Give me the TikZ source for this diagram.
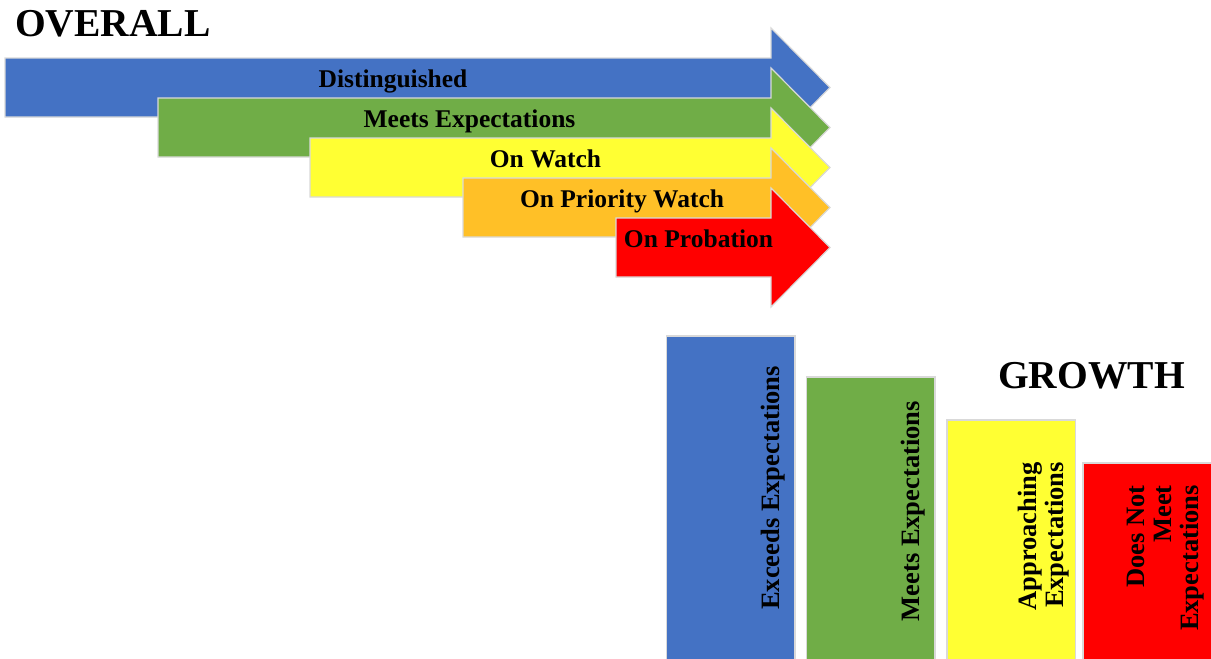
\documentclass[tikz,border=0pt]{standalone}
\usepackage{fontspec}
\setmainfont{Liberation Serif}
\definecolor{rankblue}{HTML}{4472C4}
\definecolor{rankgreen}{HTML}{70AD47}
\definecolor{rankyellow}{HTML}{FFFF33}
\definecolor{rankorange}{HTML}{FFC027}
\definecolor{rankred}{HTML}{FF0000}
\def\rankarrow#1#2#3{(#1,#2) -- (771,#2) -- (771,{#2-30}) -- (830,{#2+29.5}) -- (771,{#2+89}) -- (771,{#2+59}) -- (#1,{#2+59}) -- cycle}
\def\growthbar#1#2#3{(#1,#2) rectangle (#3,661)}

\begin{document}
\begin{tikzpicture}[x=1pt,y=-1pt,
    edge/.style={draw=black!15,line width=1.2pt},
    arrowtext/.style={font=\fontsize{25.5}{28}\selectfont\bfseries,inner sep=0pt,anchor=base},
    sidetext/.style={font=\fontsize{26.5}{27}\selectfont\bfseries,inner sep=0pt,rotate=90,anchor=east,align=right},
    headline/.style={font=\fontsize{39.5}{44}\selectfont\bfseries,inner sep=0pt,anchor=base west}]
    \useasboundingbox (0,0) rectangle (1211,659);

    % overall ratings
    \node[headline] (overall) at (15,36) {OVERALL};
    \filldraw[edge,fill=rankblue] \rankarrow{5}{58}{};
    \filldraw[edge,fill=rankgreen] \rankarrow{158}{98}{};
    \filldraw[edge,fill=rankyellow] \rankarrow{310}{138}{};
    \filldraw[edge,fill=rankorange] \rankarrow{463}{178}{};
    \filldraw[edge,fill=rankred] \rankarrow{616}{218}{};
    \node[arrowtext] (dist) at (393,87.5) {Distinguished};
    \node[arrowtext] (meets) at (469.5,127.5) {Meets Expectations};
    \node[arrowtext] (watch) at (545.5,167.5) {On Watch};
    \node[arrowtext] (priority) at (622,207.5) {On Priority Watch};
    \node[arrowtext] (probation) at (698.5,247.5) {On Probation};

    % growth ratings
    \node[headline] (growth) at (998,388) {GROWTH};
    \filldraw[edge,fill=rankblue] \growthbar{666.5}{336}{795};
    \filldraw[edge,fill=rankgreen] \growthbar{806.5}{377}{935};
    \filldraw[edge,fill=rankyellow] \growthbar{947}{420}{1075.5};
    \filldraw[edge,fill=rankred] \growthbar{1083}{463}{1213};
    \node[sidetext] (exceeds) at (773,366) {Exceeds Expectations};
    \node[sidetext] (gmeets) at (913,401) {Meets Expectations};
    \node[sidetext] (approach) at (1044,462) {Approaching\\Expectations};
    \node[sidetext] (notmeet) at (1166,485) {Does Not\\Meet\\Expectations};
\end{tikzpicture}
\end{document}
